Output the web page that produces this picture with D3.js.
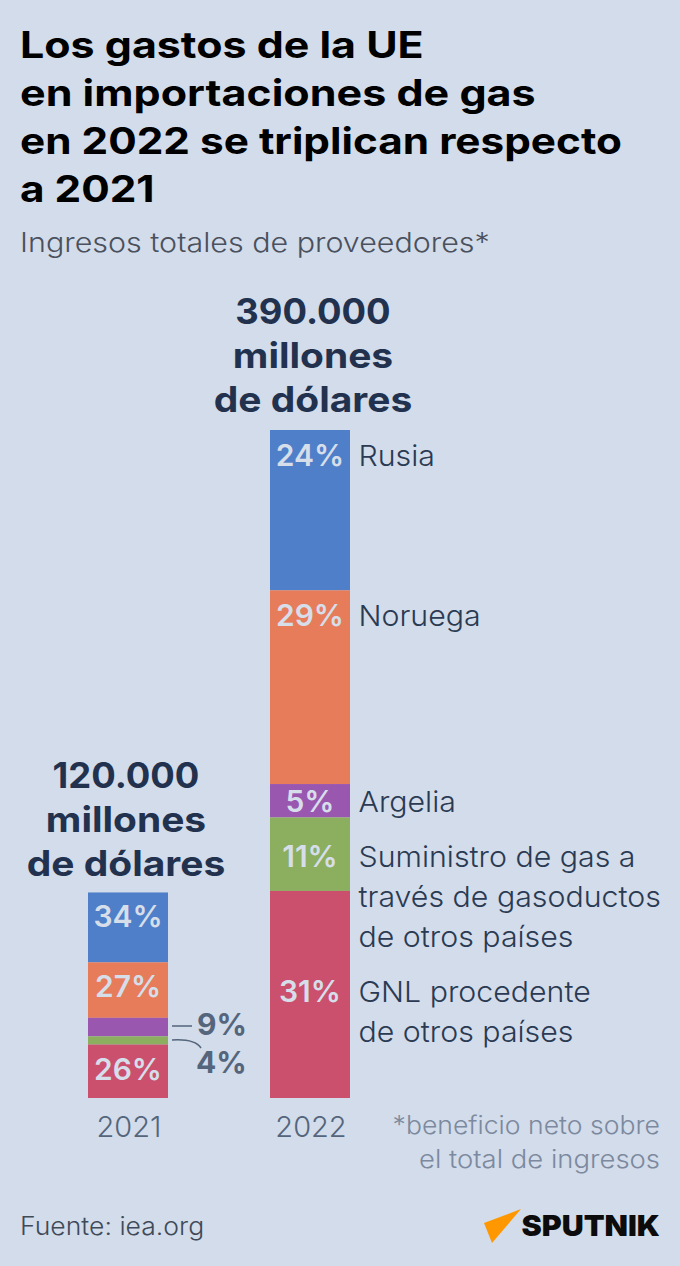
<!DOCTYPE html>
<html lang="es">
<head>
<meta charset="utf-8"/>
<title>Gastos de la UE en gas</title>
<script src="https://cdnjs.cloudflare.com/ajax/libs/d3/7.8.5/d3.min.js"></script>
<style>
html,body{margin:0;padding:0;background:#d2dcea;}
svg{display:block;font-family:Inter,"Noto Sans",sans-serif;}
</style>
</head>
<body>
<svg id="chart" width="680" height="1266"></svg>
<script>
var titleLines = ["Los gastos de la UE","en importaciones de gas","en 2022 se triplican respecto","a 2021"];
var years = ["2021","2022"];
var totals = [120, 390];
var colors = ["#4f7fc9","#e67c5a","#9a57b0","#8cae5f","#cb506d"];
var shares2021 = [34,27,9,4,26];
var shares2022 = [24,29,5,11,31];
var names2022 = [["Rusia"],["Noruega"],["Argelia"],["Suministro de gas a","través de gasoductos","de otros países"],["GNL procedente","de otros países"]];

var svg = d3.select("#chart");
var ink = "#2a3a52", grey = "#54657c", pale = "#d6deea";

// the original typeface is wider than Inter, so widen each line by a factor
function widen(sel,k){
  sel.each(function(d,i){
    var f = typeof k=="function" ? k(d,i) : k;
    this.setAttribute("textLength",this.getComputedTextLength()*f);
    this.setAttribute("lengthAdjust","spacingAndGlyphs");
  });
  return sel;
}

svg.append("rect").attr("width",680).attr("height",1266).attr("fill","#d2dcea");

var titleWiden = [1.16,1.163,1.143,1.143];
svg.selectAll(".title").data(titleLines).enter().append("text")
  .attr("x",20).attr("y",function(d,i){return 58+i*48;})
  .attr("font-size",37).attr("font-weight",700).attr("fill","#000")
  .text(function(d){return d;})
  .call(widen,function(d,i){return titleWiden[i];});

svg.append("text").attr("x",20).attr("y",252).attr("font-size",27).attr("font-weight",300).attr("fill","#4a505c")
  .text("Ingresos totales de proveedores*")
  .call(widen,1.127);

// height scale shared by both columns
var y = d3.scaleLinear().domain([0,390]).range([1098,430]);
var x = d3.scaleBand().domain(years).range([88,350]).paddingInner(0.5604);

function stack(shares,total){
  var sum = d3.sum(shares), acc = 0;
  return shares.map(function(s,i){
    var a = acc; acc += s;
    return {i:i,share:s,y0:y(total*(1-a/sum)),y1:y(total*(1-acc/sum))};
  });
}

var col21 = stack(shares2021,totals[0]);
var col22 = stack(shares2022,totals[1]);
var nameY = [466,626,812,867,1002];

[col21,col22].forEach(function(col,c){
  var g = svg.append("g");
  g.selectAll("rect").data(col).enter().append("rect")
    .attr("x",x(years[c])).attr("width",x.bandwidth())
    .attr("y",function(d){return d.y0;})
    .attr("height",function(d){return d.y1-d.y0;})
    .attr("fill",function(d){return colors[d.i];});
  // 2022 labels sit on the first line of the supplier name, 2021 near the segment top
  g.selectAll("text").data(col.filter(function(d){return d.y1-d.y0>20;})).enter().append("text")
    .attr("x",x(years[c])+x.bandwidth()/2)
    .attr("y",function(d){return c==1 ? nameY[d.i] : d.y0+35;})
    .attr("text-anchor","middle").attr("font-size",30).attr("font-weight",600).attr("fill",pale)
    .text(function(d){return d.share+"%";});
  svg.append("text").attr("x",x(years[c])+x.bandwidth()/2+1).attr("y",1137)
    .attr("text-anchor","middle").attr("font-size",29).attr("font-weight",300).attr("fill",grey).text(years[c]);
});

var head = [["120.000","millones","de dólares"],["390.000","millones","de dólares"]];
var headX = [126,313], headY = [787,323];
head.forEach(function(lines,c){
  lines.forEach(function(t,i){
    svg.append("text").attr("x",headX[c]).attr("y",headY[c]+1+i*44)
      .attr("text-anchor","middle").attr("font-size",35).attr("font-weight",700).attr("fill","#22324e").text(t)
      .call(widen,i==0 ? 1.04 : 1.112);
  });
});

names2022.forEach(function(lines,k){
  lines.forEach(function(t,i){
    svg.append("text").attr("x",358.5).attr("y",nameY[k]+i*40)
      .attr("font-size",29).attr("font-weight",300).attr("fill",ink).text(t)
      .call(widen,1.045);
  });
});

// small 2021 slices are labelled outside the bar
svg.append("path").attr("d","M172 1026H192").attr("fill","none").attr("stroke",grey).attr("stroke-width",1.5);
svg.append("path").attr("d","M172 1040C188 1039 197 1042 201 1048").attr("fill","none").attr("stroke",grey).attr("stroke-width",1.5);
svg.append("text").attr("x",197).attr("y",1035).attr("font-size",30).attr("font-weight",700).attr("fill",grey).text(shares2021[2]+"%");
svg.append("text").attr("x",196).attr("y",1073).attr("font-size",30).attr("font-weight",700).attr("fill",grey).text(shares2021[3]+"%");

var noteWiden = [1.063,1.098];
["*beneficio neto sobre","el total de ingresos"].forEach(function(t,i){
  svg.append("text").attr("x",660).attr("y",1134+i*34).attr("text-anchor","end")
    .attr("font-size",25).attr("font-weight",300).attr("fill","#7c899e").text(t)
    .call(widen,noteWiden[i]);
});

svg.append("text").attr("x",20).attr("y",1235).attr("font-size",25).attr("font-weight",300).attr("fill","#3f4a59").text("Fuente: iea.org")
  .call(widen,1.062);

svg.append("path").attr("d","M484 1223L521 1209L492 1243Z").attr("fill","#ff9800");
svg.append("text").attr("x",660).attr("y",1236).attr("text-anchor","end")
  .attr("font-size",29).attr("font-weight",900).attr("fill","#0c0c0c").text("SPUTNIK")
  .call(widen,1.05);
</script>
</body>
</html>
